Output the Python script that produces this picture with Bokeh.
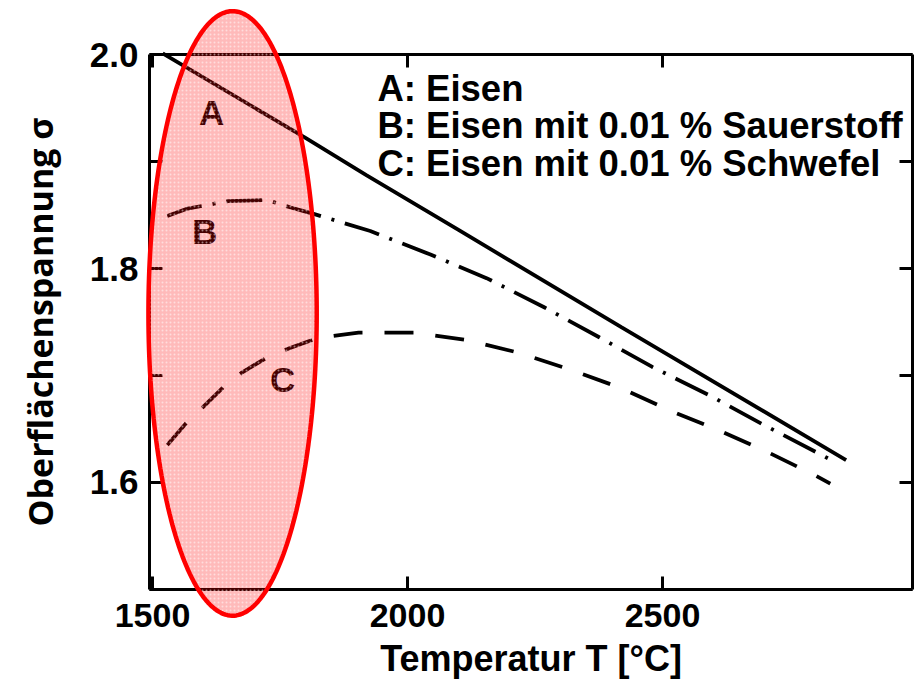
import numpy as np
from bokeh.plotting import figure
from bokeh.models import LinearAxis, FixedTicker, PolyAnnotation, Range1d, PrintfTickFormatter
from bokeh.core.properties import value
from bokeh.embed import file_html
from bokeh.resources import INLINE

# ---- data ----
T_A = [1520, 1800, 1920, 2100, 2420, 2860]
S_A = [2.001, 1.922, 1.887, 1.836, 1.745, 1.621]

T_B = [1529, 1569, 1649, 1725, 1771, 1816, 1927, 2045, 2155, 2267, 2375, 2480, 2590, 2698, 2843]
S_B = [1.849, 1.856, 1.863, 1.864, 1.857, 1.851, 1.835, 1.813, 1.791, 1.764, 1.736, 1.708, 1.682, 1.654, 1.618]

T_C = [1529, 1565, 1598, 1639, 1676, 1725, 1771, 1824, 1904, 2012, 2118, 2220, 2322, 2420, 2516, 2614, 2708, 2802, 2829]
S_C = [1.635, 1.655, 1.670, 1.689, 1.703, 1.717, 1.726, 1.735, 1.740, 1.740, 1.733, 1.721, 1.705, 1.688, 1.667, 1.648, 1.628, 1.606, 1.599]

curve_names = ["A", "B", "C"]
curve_label_T = [1616, 1602, 1755]
curve_label_S = [1.946, 1.835, 1.696]

legend_lines = ["A: Eisen", "B: Eisen mit 0.01 % Sauerstoff", "C: Eisen mit 0.01 % Schwefel"]
legend_T = [1941, 1941, 1941]
legend_S = [1.968, 1.934, 1.898]

x_ticks = [1500, 2000, 2500]
y_ticks = [1.6, 1.8, 2.0]
y_minor_ticks = [1.5, 1.7, 1.9]

x_title = "Temperatur T [°C]"
y_title = "Oberflächenspannung σ"

# plot box (data limits); the frame spans the whole canvas so nothing is clipped
box_x = (1494, 2990)
box_y = (1.5, 2.0)
view_x = (1201.96, 2996.08)
view_y = (1.40654, 2.05047)

# highlight ellipse (center / radii in data units)
ell_cx, ell_cy, ell_rx, ell_ry = 1657, 1.758, 165, 0.2825

FONT = "Liberation Sans"

p = figure(frame_width=915, frame_height=689,
           x_range=Range1d(*view_x), y_range=Range1d(*view_y),
           output_backend="svg", toolbar_location=None,
           x_axis_location=None, y_axis_location=None,
           min_border_left=0, min_border_top=0, min_border_right=0, min_border_bottom=0)
p.grid.visible = False
p.outline_line_color = None
p.background_fill_color = "white"
p.border_fill_color = "white"

xb = LinearAxis(fixed_location=box_y[0], bounds=box_x)
xt = LinearAxis(fixed_location=box_y[1], bounds=box_x)
yl = LinearAxis(fixed_location=box_x[0], bounds=box_y)
yr = LinearAxis(fixed_location=box_x[1], bounds=box_y)
p.add_layout(xb, "below")
p.add_layout(xt, "above")
p.add_layout(yl, "left")
p.add_layout(yr, "right")

for ax in (xb, xt):
    ax.ticker = FixedTicker(ticks=x_ticks, minor_ticks=[])
    ax.formatter = PrintfTickFormatter(format="%d")
for ax in (yl, yr):
    ax.ticker = FixedTicker(ticks=y_ticks, minor_ticks=y_minor_ticks)
    ax.formatter = PrintfTickFormatter(format="%.1f")

for ax in (xb, xt, yl, yr):
    ax.axis_line_width = 3
    ax.axis_line_color = "black"
    ax.major_tick_line_width = 3
    ax.minor_tick_line_width = 3
    ax.major_tick_line_color = "black"
    ax.minor_tick_line_color = "black"
    ax.major_tick_in = 13
    ax.major_tick_out = 0
    ax.minor_tick_in = 13
    ax.minor_tick_out = 0
    ax.major_label_text_font = FONT
    ax.major_label_text_font_style = "bold"
    ax.major_label_text_color = "black"

# top / right axes: ticks only
for ax in (xt, yr):
    ax.major_label_text_color = None
    ax.major_label_text_font_size = "1px"
    ax.major_label_standoff = 0

xb.major_label_text_font_size = "34px"
xb.major_label_standoff = 15
xb.axis_label = x_title
xb.axis_label_text_font = FONT
xb.axis_label_text_font_style = "bold"
xb.axis_label_text_font_size = "36px"
xb.axis_label_text_color = "black"
xb.axis_label_standoff = 7

yl.major_label_text_font_size = "35px"
yl.major_label_standoff = 11
yl.axis_label = y_title
yl.axis_label_text_font = "Open Sans"
yl.axis_label_text_font_style = "bold"
yl.axis_label_text_font_size = "34px"
yl.axis_label_text_color = "black"
yl.axis_label_standoff = 24

# curves
p.line(T_A, S_A, line_color="black", line_width=3.8)
p.line(T_B, S_B, line_color="black", line_width=3.8, line_dash="36 11 3 11")
p.line(T_C, S_C, line_color="black", line_width=3.8, line_dash="29 22")

# curve labels
p.text(x=curve_label_T, y=curve_label_S, text=curve_names, text_font=value(FONT),
       text_font_style="bold", text_font_size="35px", text_align="center",
       text_baseline="middle", text_color="black")

# legend text
p.text(x=legend_T, y=legend_S, text=legend_lines, text_font=value(FONT),
       text_font_style="bold", text_font_size="36.5px", text_align="left",
       text_baseline="middle", text_color="black")

# red highlight ellipse
t = np.linspace(0, 2 * np.pi, 240)
ell = PolyAnnotation(xs=list(ell_cx + ell_rx * np.cos(t)), ys=list(ell_cy + ell_ry * np.sin(t)),
                     fill_color="red", fill_alpha=0.27, line_color="#ff0000", line_width=4.5,
                     line_alpha=1.0, hatch_pattern="dot", hatch_color="white", hatch_alpha=0.5,
                     hatch_scale=4, hatch_weight=1, level="overlay")
p.add_layout(ell)

open("out.html", "w").write(file_html(p, INLINE))
